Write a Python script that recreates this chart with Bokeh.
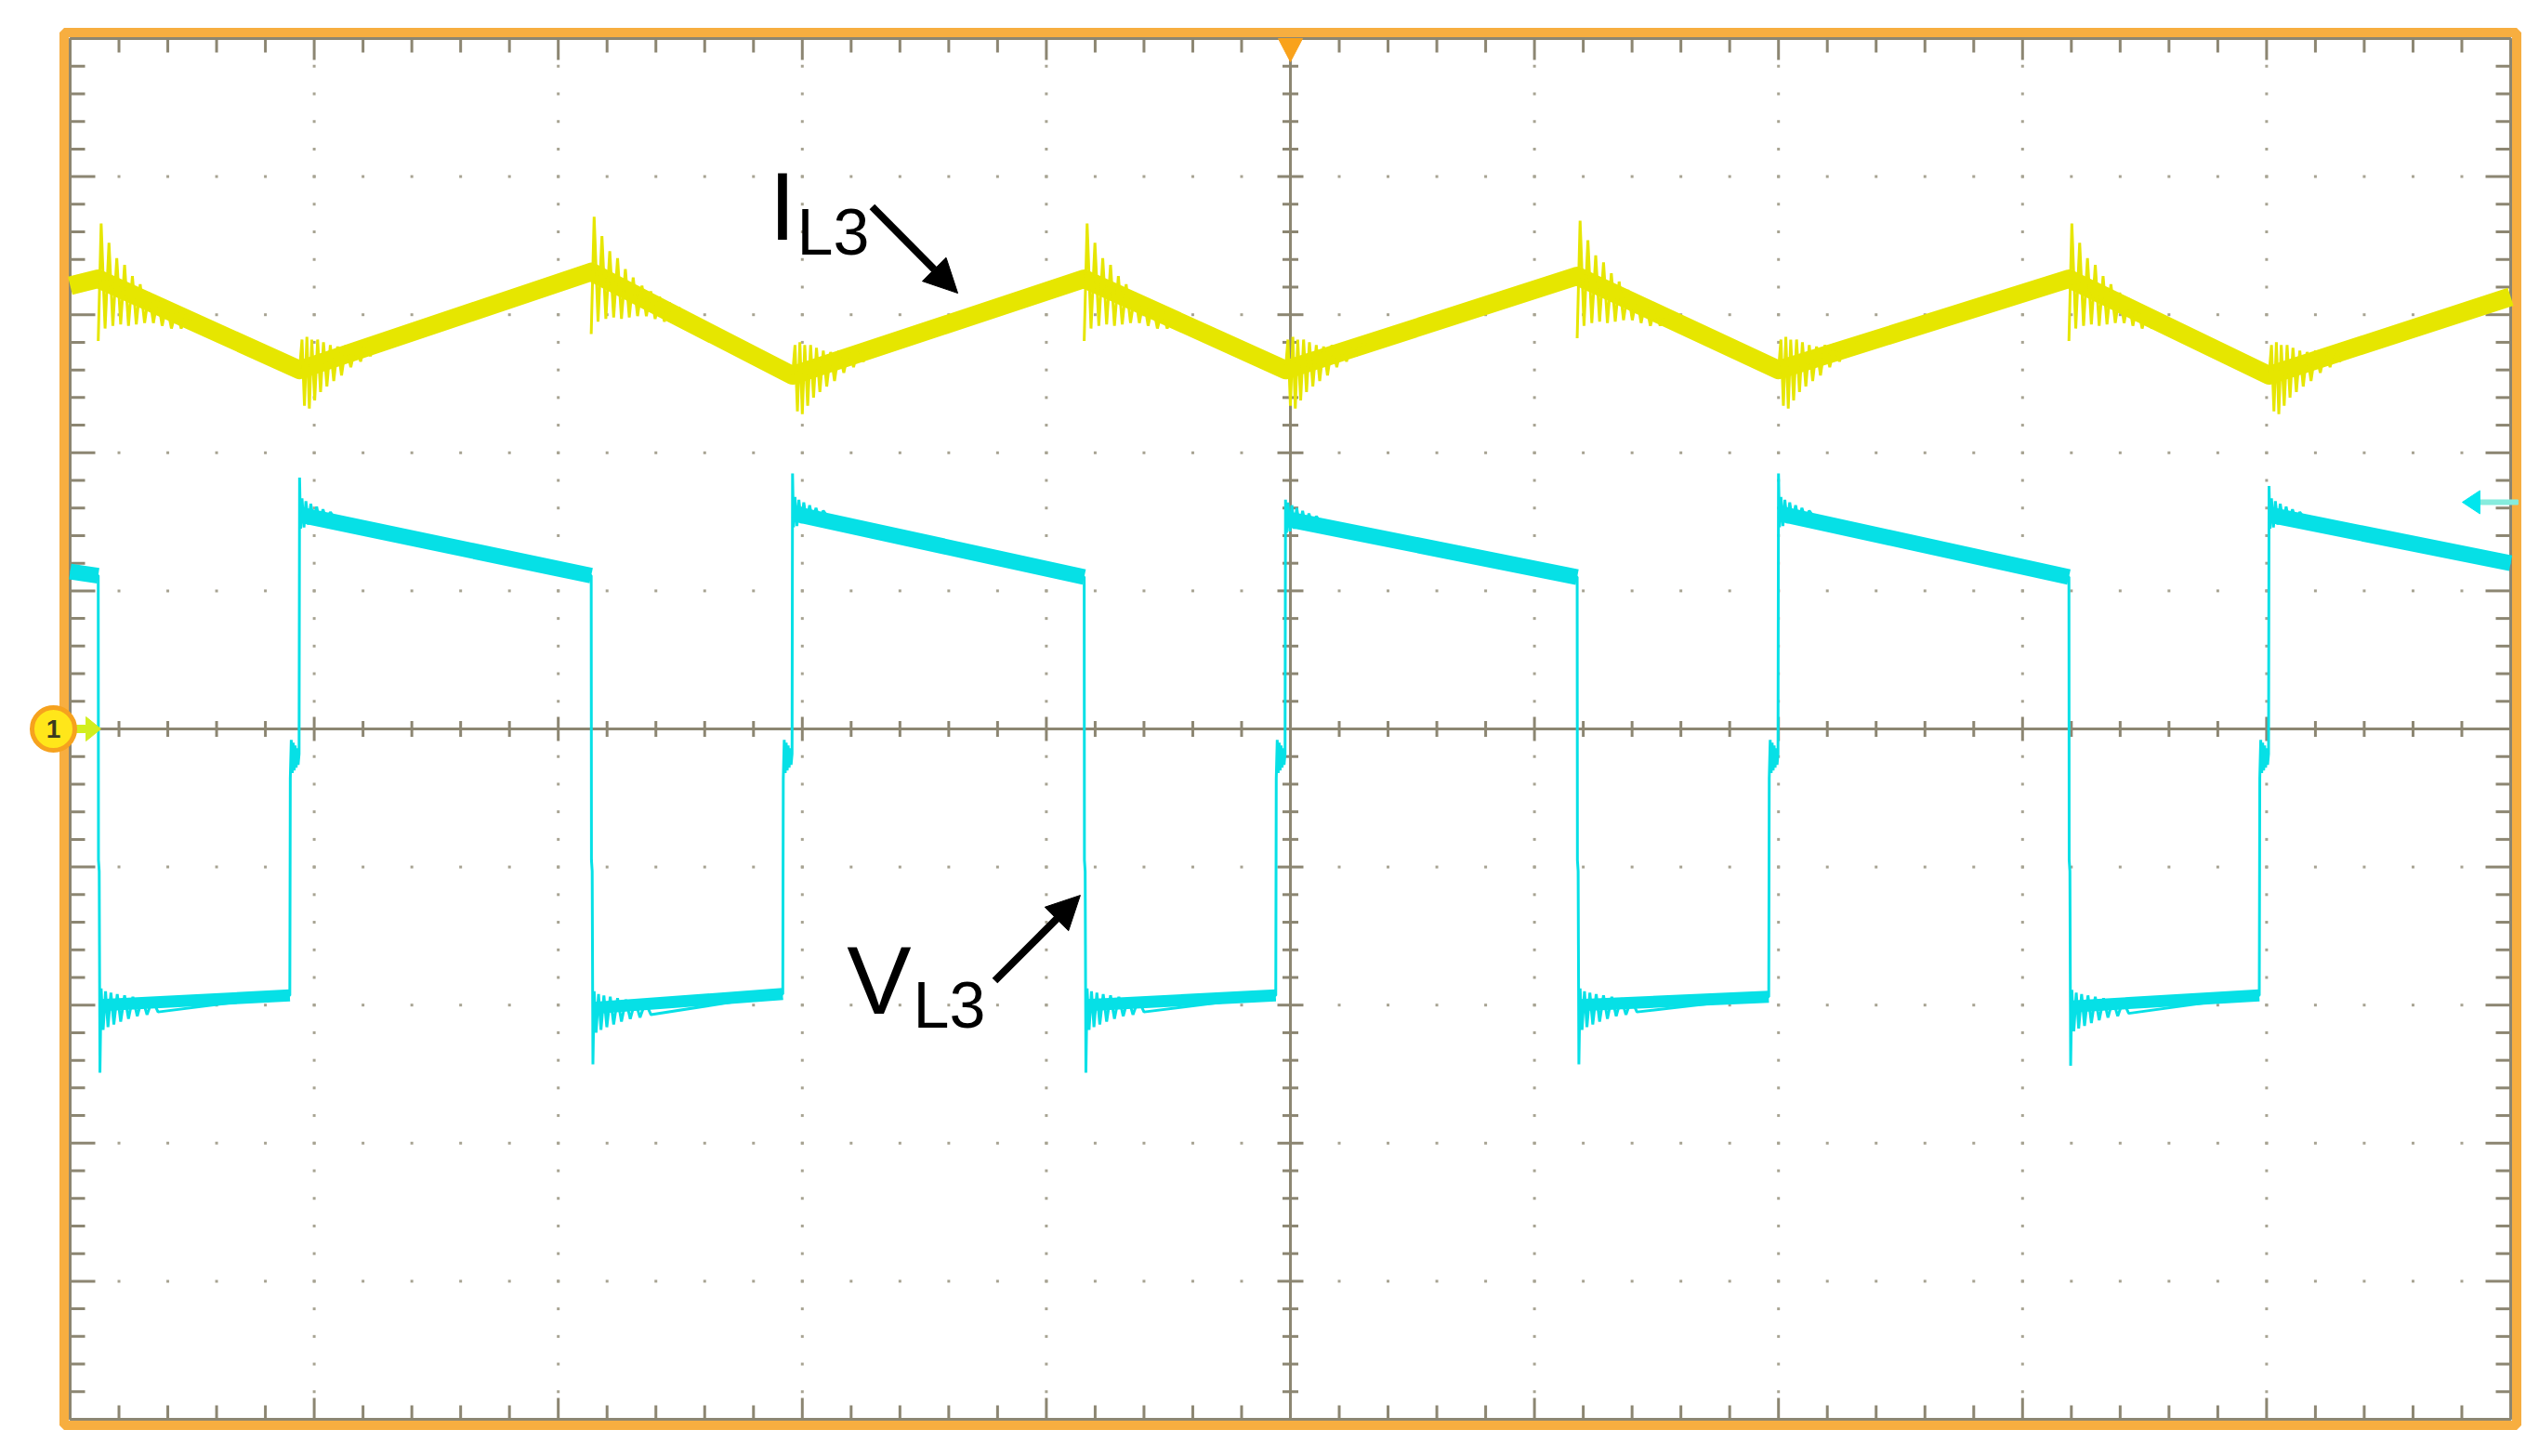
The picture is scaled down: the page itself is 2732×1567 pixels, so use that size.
import numpy as np
from bokeh.plotting import figure
from bokeh.models import Label, Arrow, NormalHead, Range1d
from bokeh.embed import file_html
from bokeh.resources import INLINE

# ---------------- data (graticule divisions: x 0..10, y -5..5) ----------------
# switching edges (divisions from left edge)
fall_t = [0.115, 2.135, 4.155, 6.175, 8.19]   # V_L3 falls / I_L3 peaks
rise_t = [0.94, 2.96, 4.98, 7.00, 9.01]       # V_L3 rises / I_L3 troughs

# I_L3 (yellow) levels
il_start = 3.21
il_peak = [3.26, 3.31, 3.26, 3.28, 3.26]
il_trough = [2.60, 2.56, 2.60, 2.60, 2.56]
il_end = 3.13
# ringing after a peak (dx, dy relative to the peak level)
ring_il_fall_dx = [0.000, 0.012, 0.028, 0.044, 0.060, 0.076, 0.092, 0.108, 0.124, 0.140,
                   0.156, 0.172, 0.190, 0.208, 0.226, 0.244, 0.262, 0.280, 0.300, 0.320,
                   0.340, 0.360, 0.380]
ring_il_fall_dy = [-0.45, 0.40, -0.36, 0.26, -0.34, 0.15, -0.33, 0.10, -0.34, 0.02,
                   -0.33, -0.04, -0.32, -0.10, -0.32, -0.14, -0.34, -0.18, -0.36, -0.22,
                   -0.36, -0.26, -0.30]
# ringing after a trough (dx, dy relative to the trough level)
ring_il_rise_dx = [0.000, 0.010, 0.020, 0.030, 0.040, 0.050, 0.062, 0.074, 0.086, 0.098,
                   0.112, 0.126, 0.140, 0.156, 0.172, 0.190, 0.210, 0.230, 0.250, 0.270,
                   0.290, 0.310, 0.330]
ring_il_rise_dy = [0.00, 0.22, -0.26, 0.24, -0.28, 0.22, -0.22, 0.22, -0.16, 0.20,
                   -0.12, 0.18, -0.08, 0.17, -0.04, 0.18, 0.02, 0.19, 0.06, 0.21,
                   0.10, 0.22, 0.18]

# V_L3 (cyan) levels
vl_start = 1.14
vl_end = 1.20
vl_high_start = [1.55, 1.56, 1.52, 1.56, 1.55]
vl_high_end = [1.11, 1.11, 1.10, 1.10, 1.10]
vl_low_start = [-2.00, -2.02, -2.00, -2.00, -2.01]
vl_low_end = [-1.93, -1.92, -1.93, -1.94, -1.93]
vl_spike_up = [1.82, 1.85, 1.66, 1.85, 1.76]
vl_spike_down = [-2.49, -2.43, -2.49, -2.43, -2.44]
vl_fall_kink = [-0.95, -1.03]
ring_vl_dx = [0.012, 0.020, 0.030, 0.040, 0.052, 0.064, 0.078, 0.092, 0.108, 0.124,
              0.142, 0.160, 0.180, 0.200, 0.222, 0.245]
ring_vl_dy = [0.12, -0.18, 0.10, -0.16, 0.09, -0.14, 0.08, -0.12, 0.07, -0.10,
              0.06, -0.08, 0.05, -0.07, 0.04, -0.05]
blob_dx = [-0.038, -0.034, -0.030, -0.026, -0.022, -0.018, -0.014, -0.010, -0.006, -0.002]
blob_y = [-0.36, -0.08, -0.32, -0.10, -0.30, -0.12, -0.28, -0.14, -0.26, -0.18]
ring_vh_dx = [0.004, 0.010, 0.018, 0.026, 0.036, 0.046, 0.058, 0.070, 0.082, 0.096,
              0.110, 0.126, 0.142]
ring_vh_dy = [-0.10, 0.12, -0.09, 0.10, -0.07, 0.08, -0.06, 0.06, -0.05, 0.04,
              -0.04, 0.02, -0.02]

# ---------------- geometry ----------------
W, H = 2714, 1550
PX = 262.6   # px per horizontal division
PY = 148.6   # px per vertical division
gl, gt = 75, 41          # graticule left/top inside the canvas
x_start = -gl / PX
x_end = 10 + (W - gl - 10 * PX) / PX
y_end = 5 + gt / PY
y_start = -5 - (H - gt - 10 * PY) / PY

ORANGE = "#F7AE40"
GRAY = "#8C8672"
DOT = "#A7A392"
YEL = "#E6E600"
CYAN = "#06E0E6"

p = figure(width=W, height=H, x_range=Range1d(x_start, x_end), y_range=Range1d(y_start, y_end),
           output_backend="svg", toolbar_location=None, x_axis_location=None,
           y_axis_location=None, min_border=0, outline_line_color=None,
           background_fill_color="white", border_fill_color="white")
p.grid.visible = False

# dotted graticule
dx_list, dy_list = [], []
minor = np.round(np.arange(0, 10.001, 0.2), 3)
minor_y = np.round(np.arange(-5, 5.001, 0.2), 3)
for gx in [1, 2, 3, 4, 6, 7, 8, 9]:
    for yy in minor_y[1:-1]:
        dx_list.append(gx); dy_list.append(yy)
for gy in [-4, -3, -2, -1, 1, 2, 3, 4]:
    for xx in minor[1:-1]:
        dx_list.append(xx); dy_list.append(gy)
p.scatter(dx_list, dy_list, marker="square", size=3, color=DOT, line_color=None)

# center axes
p.segment([0, 5], [0, -5], [10, 5], [0, 5], line_color=GRAY, line_width=3)

# ticks
sx0, sy0, sx1, sy1 = [], [], [], []
def add(a, b, c, d):
    sx0.append(a); sy0.append(b); sx1.append(c); sy1.append(d)
for xx in minor[1:-1]:
    major = abs(xx - round(xx)) < 1e-6
    lv = (23 if major else 15) / PY
    add(xx, 5, xx, 5 - lv)
    add(xx, -5, xx, -5 + lv)
    c = (13 if major else 8.5) / PY
    add(xx, -c, xx, c)
for yy in minor_y[1:-1]:
    major = abs(yy - round(yy)) < 1e-6
    lh = (27 if major else 16) / PX
    add(0, yy, lh, yy)
    add(10, yy, 10 - lh, yy)
    c = (14 if major else 8.5) / PX
    add(5 - c, yy, 5 + c, yy)
p.segment(sx0, sy0, sx1, sy1, line_color=GRAY, line_width=3)

# borders
p.quad(left=[0], right=[10], bottom=[-5], top=[5], fill_color=None, line_color=GRAY, line_width=3)
ox, oy = 6.5 / PX, 6.5 / PY
p.quad(left=[-ox], right=[10 + ox], bottom=[-5 - oy], top=[5 + oy], fill_color=None,
       line_color=ORANGE, line_width=10)

# ---------------- I_L3 trace ----------------
il_x, il_y = [0.0], [il_start]
for i in range(5):
    il_x += [fall_t[i], rise_t[i]]
    il_y += [il_peak[i], il_trough[i]]
il_x.append(10.0); il_y.append(il_end)
p.line(il_x, il_y, line_width=20, color=YEL, line_join="round")

rx, ry = [], []
for i in range(5):
    rx.append([fall_t[i] + d for d in ring_il_fall_dx])
    ry.append([il_peak[i] + d for d in ring_il_fall_dy])
    rx.append([rise_t[i] + d for d in ring_il_rise_dx])
    ry.append([il_trough[i] + d for d in ring_il_rise_dy])
p.multi_line(rx, ry, line_width=3, line_color=YEL)

# ---------------- V_L3 trace ----------------
vx, vy = [0.0], [vl_start]
for i in range(5):
    tf, tr = fall_t[i], rise_t[i]
    vx += [tf, tf + 0.001, tf + 0.004, tf + 0.007]
    vy += [vl_high_end[i], vl_fall_kink[0], vl_fall_kink[1], vl_spike_down[i]]
    vx += [tf + d for d in ring_vl_dx]
    vy += [vl_low_start[i] + d for d in ring_vl_dy]
    vx.append(tr - 0.04); vy.append(vl_low_end[i])
    vx += [tr + d for d in blob_dx]
    vy += blob_y
    vx.append(tr); vy.append(vl_spike_up[i])
    vx += [tr + d for d in ring_vh_dx]
    vy += [vl_high_start[i] + d for d in ring_vh_dy]
vx.append(10.0); vy.append(vl_end)
p.line(vx, vy, line_width=3, color=CYAN)

hx = [[0.0, fall_t[0]]]
hy = [[vl_start, vl_high_end[0]]]
for i in range(5):
    x1 = fall_t[i + 1] if i < 4 else 10.0
    y1 = vl_high_end[i + 1] if i < 4 else vl_end
    hx.append([rise_t[i] + 0.004, x1]); hy.append([vl_high_start[i], y1])
p.multi_line(hx, hy, line_width=17, line_color=CYAN, line_cap="butt")
lx, ly = [], []
for i in range(5):
    lx.append([fall_t[i] + 0.01, rise_t[i] - 0.04])
    ly.append([vl_low_start[i], vl_low_end[i]])
p.multi_line(lx, ly, line_width=13, line_color=CYAN, line_cap="butt")

# ---------------- markers ----------------
# trigger position (top)
p.patch([5 - 13 / PX, 5 + 13 / PX, 5], [5, 5, 5 - 25 / PY], color="#F9A21B")
# channel 1 ground marker
p.patch([0.011, 0.065, 0.065, 0.1257, 0.065, 0.065, 0.011],
        [0.027, 0.027, 0.0875, 0, -0.0875, -0.027, -0.027], color="#D2EE1E")
p.scatter([-18 / PX], [0], size=46, fill_color="#FFE61A", line_color="#F6A21E", line_width=5)
p.add_layout(Label(x=-18 / PX, y=0, text="1", text_align="center", text_baseline="middle",
                   text_font="Liberation Sans", text_font_style="bold", text_font_size="28px",
                   text_color="#3a3a20"))
# cyan reference arrow (right)
p.patch([9.874, 10.03, 10.03, 9.874], [1.659, 1.659, 1.625, 1.625], color="#86ECDD")
p.patch([9.802, 9.874, 9.874], [1.642, 1.726, 1.558], color="#00E6EE")

# ---------------- annotations ----------------
# (baseline positions corrected for the renderer's text placement)
for (x, y, t, s) in [(2.864, 3.526 + 0.262, "I", "104px"), (2.978, 3.419 + 0.177, "L3", "70px"),
                     (3.183, -2.079 + 0.262, "V", "104px"), (3.454, -2.18 + 0.177, "L3", "70px")]:
    p.add_layout(Label(x=x, y=y, text=t, text_font="Liberation Sans", text_font_size=s,
                       text_color="black", text_align="left", text_baseline="alphabetic"))
for (xs, ys, xe, ye) in [(3.286, 3.782, 3.637, 3.156), (3.789, -1.824, 4.139, -1.205)]:
    p.add_layout(Arrow(x_start=xs, y_start=ys, x_end=xe, y_end=ye, line_width=8,
                       line_color="black",
                       end=NormalHead(size=36, fill_color="black", line_color="black",
                                      line_width=1)))

open("out.html", "w").write(file_html(p, INLINE))
